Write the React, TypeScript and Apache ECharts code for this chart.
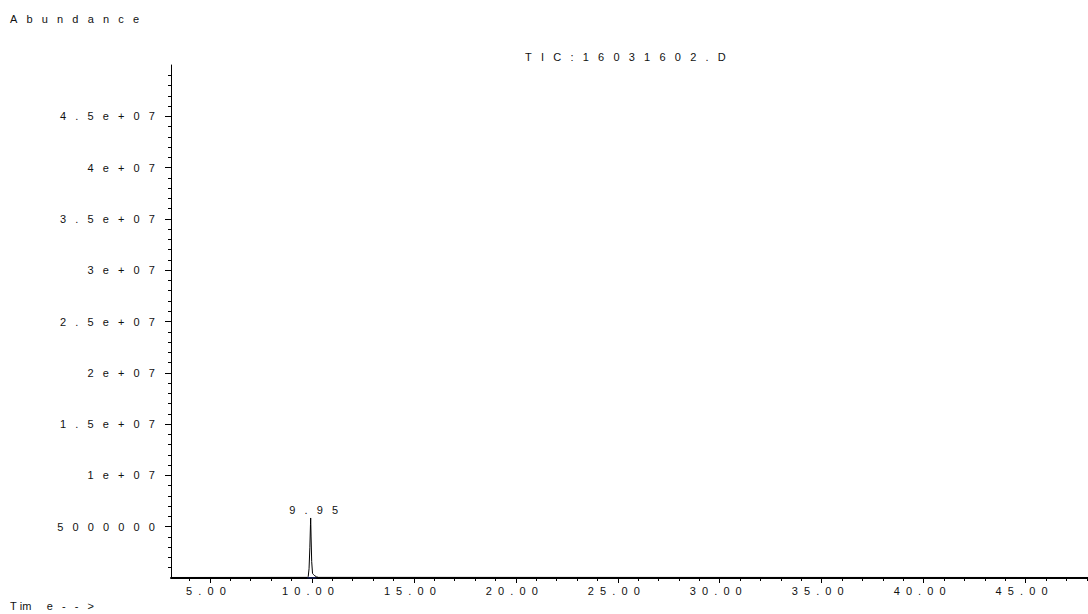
import React, { useEffect, useRef } from 'react';
import * as echarts from 'echarts';

// ---- data ----
const times = [3.09, 9.78, 9.82, 9.86, 9.9, 9.93, 9.94, 9.96, 9.99, 10.03, 10.07, 10.14, 10.22, 10.32, 48.06];
const abundances = [50000, 60000, 150000, 900000, 3000000, 5200000, 5850000, 4000000, 1600000, 450000, 350000, 220000, 120000, 60000, 50000];
const baselineTimes = [9.78, 10.22];
const baselineValues = [0, 0];
const peakLabel = '9.95';

const xMajorTicks = [5, 10, 15, 20, 25, 30, 35, 40, 45];
const xTickLabels = ['5.00', '10.00', '15.00', '20.00', '25.00', '30.00', '35.00', '40.00', '45.00'];
const yMajorTicks = [5e6, 1e7, 1.5e7, 2e7, 2.5e7, 3e7, 3.5e7, 4e7, 4.5e7];
const yTickLabels = ['5000000', '1e+07', '1.5e+07', '2e+07', '2.5e+07', '3e+07', '3.5e+07', '4e+07', '4.5e+07'];

const titleText = 'TIC: 16031602.D';
const yAxisTitle = 'Abundance';
const xAxisTitle = 'Time-->';

const X_MIN = 3.09;
const X_MAX = 48.06;
const Y_MIN = 0;
const Y_MAX = 5e7;

// minor tick positions (every 1 min / every 1e6)
const xMinorTicks: number[] = [];
for (let t = 4; t <= 48; t++) if (t % 5 !== 0) xMinorTicks.push(t);
const yMinorTicks: number[] = [];
for (let k = 1; k < 50; k++) if (k % 5 !== 0) yMinorTicks.push(k * 1e6);

const FONT = '"Liberation Sans", Arial, sans-serif';
const NB = '\u00a0';
const G3 = NB + NB + NB;
const G2 = NB + NB;
const GT = NB + NB + '\u2009' + '\u200a';
// letter-spaced rendering: a blank in the source becomes just one gap
const spread = (s: string, gap: string) =>
  Array.from(s.replace(/ /g, '')).join(gap);
const TEXT_COLOR = '#111';

export default function App() {
  const ref = useRef<HTMLDivElement>(null);

  useEffect(() => {
    if (!ref.current) return;
    const chart = echarts.init(ref.current, undefined, { renderer: 'svg' });

    const peakIdx = abundances.indexOf(Math.max(...abundances));
    const data = times.map((t, i) => [t, abundances[i]]);

    const option: any = {
      animation: false,
      backgroundColor: '#fff',
      grid: { left: 171, top: 65, right: 0, bottom: 36, containLabel: false },
      xAxis: [
        {
          type: 'value',
          position: 'bottom',
          min: X_MIN,
          max: X_MAX,
          axisLine: { show: true, onZero: false, lineStyle: { color: '#000', width: 2 } },
          axisTick: { show: true, length: 5, customValues: xMajorTicks, lineStyle: { color: '#000', width: 1 } },
          axisLabel: {
            show: true,
            customValues: xMajorTicks,
            formatter: (v: number) => {
              const i = xMajorTicks.indexOf(v);
              return i >= 0 ? spread(xTickLabels[i], G2) : '';
            },
            margin: 7,
            color: TEXT_COLOR,
            fontSize: 11,
            fontFamily: FONT,
            padding: [0, 8, 0, 0],
          },
          splitLine: { show: false },
        },
        {
          type: 'value',
          position: 'bottom',
          min: X_MIN,
          max: X_MAX,
          axisLine: { show: false, onZero: false },
          axisTick: { show: true, length: 3, customValues: xMinorTicks, lineStyle: { color: '#000', width: 1 } },
          axisLabel: { show: false },
          splitLine: { show: false },
        },
      ],
      yAxis: [
        {
          type: 'value',
          position: 'left',
          min: Y_MIN,
          max: Y_MAX,
          axisLine: { show: true, onZero: false, lineStyle: { color: '#000', width: 1 } },
          axisTick: { show: true, length: 6, customValues: yMajorTicks, lineStyle: { color: '#000', width: 1 } },
          axisLabel: {
            show: true,
            customValues: yMajorTicks,
            formatter: (v: number) => {
              const i = yMajorTicks.indexOf(v);
              return i >= 0 ? spread(yTickLabels[i], G3) : '';
            },
            margin: 16,
            color: TEXT_COLOR,
            fontSize: 11,
            fontFamily: FONT,
          },
          splitLine: { show: false },
        },
        {
          type: 'value',
          position: 'left',
          min: Y_MIN,
          max: Y_MAX,
          axisLine: { show: false, onZero: false },
          axisTick: { show: true, length: 3, customValues: yMinorTicks, lineStyle: { color: '#000', width: 1 } },
          axisLabel: { show: false },
          splitLine: { show: false },
        },
      ],
      series: [
        {
          type: 'line',
          xAxisIndex: 0,
          yAxisIndex: 0,
          data,
          showSymbol: false,
          symbol: 'none',
          lineStyle: { color: '#000', width: 1 },
          z: 3,
        },
        {
          type: 'line',
          xAxisIndex: 0,
          yAxisIndex: 0,
          data: baselineTimes.map((t, i) => [t, baselineValues[i]]),
          showSymbol: false,
          symbol: 'none',
          lineStyle: { color: '#1f2f8f', width: 1 },
          z: 4,
        },
        {
          type: 'scatter',
          xAxisIndex: 0,
          yAxisIndex: 0,
          data: [[times[peakIdx], abundances[peakIdx]]],
          symbol: 'circle',
          symbolSize: 1,
          itemStyle: { color: 'rgba(0,0,0,0)' },
          silent: true,
          z: 5,
          label: {
            show: true,
            position: 'top',
            distance: 2,
            formatter: () => spread(peakLabel, G3),
            color: TEXT_COLOR,
            opacity: 1,
            fontSize: 11,
            fontFamily: FONT,
            offset: [3, 0],
          },
        },
      ],
      graphic: [
        {
          type: 'text',
          left: 10,
          top: 13,
          style: { text: spread(yAxisTitle, G3), fill: TEXT_COLOR, fontSize: 11, fontFamily: FONT },
        },
        {
          type: 'text',
          left: 525,
          top: 51,
          style: { text: spread(titleText, GT), fill: TEXT_COLOR, fontSize: 11, fontFamily: FONT },
        },
        {
          type: 'text',
          left: 10,
          top: 600,
          style: {
            text: 'T' + NB + 'im' + G3 + NB + NB + 'e' + G3 + '-' + G3 + '-' + G3 + '>',
            fill: TEXT_COLOR,
            fontSize: 11,
            fontFamily: FONT,
          },
        },
      ],
    };

    chart.setOption(option);
    return () => chart.dispose();
  }, []);

  return (
    <div
      ref={ref}
      style={{ position: 'fixed', left: 0, top: 0, width: 1088, height: 614, background: '#fff' }}
    />
  );
}
